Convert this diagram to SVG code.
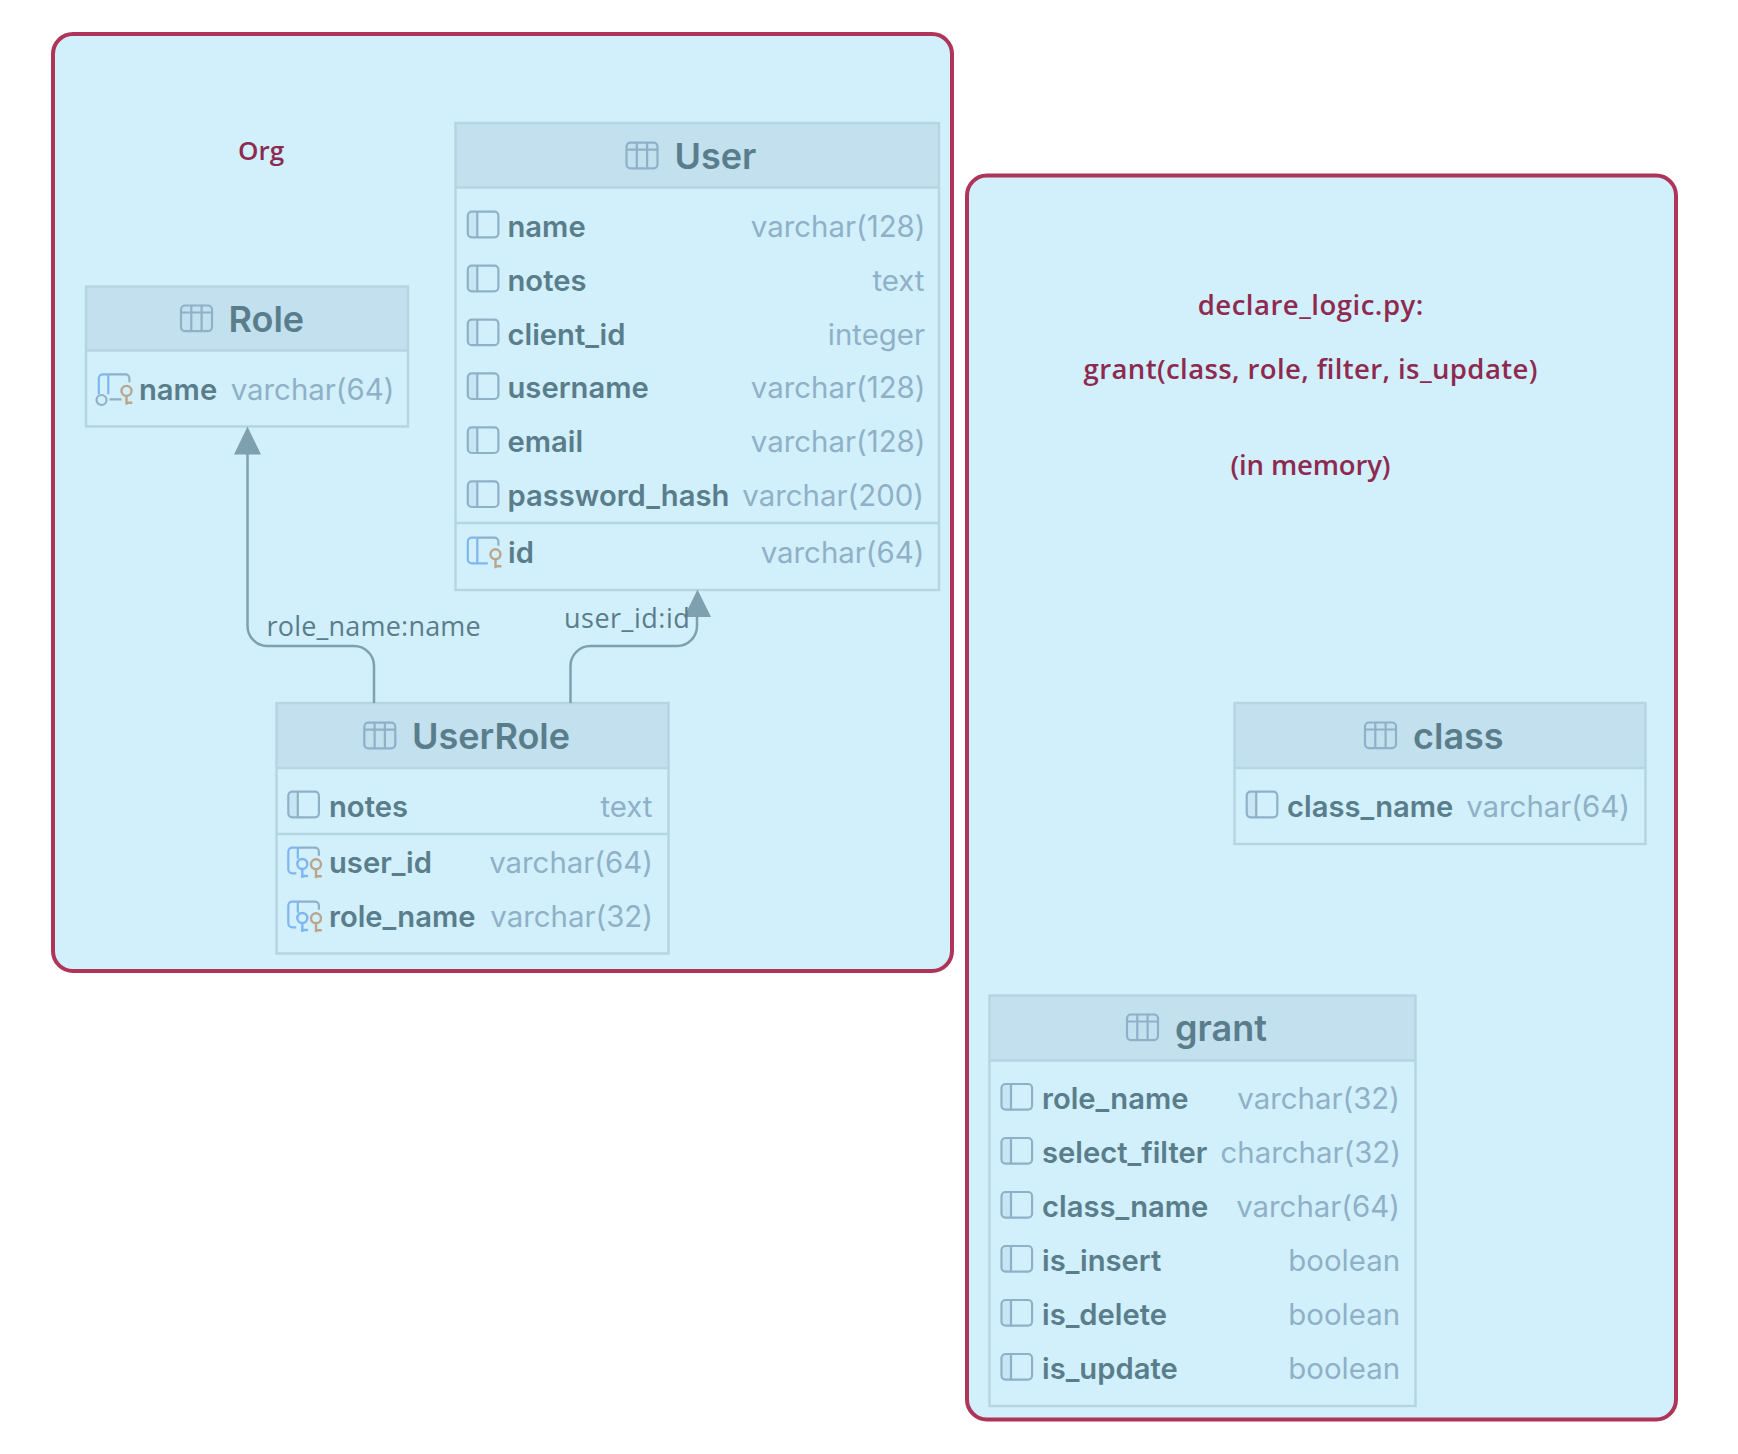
<svg xmlns="http://www.w3.org/2000/svg" xmlns:xlink="http://www.w3.org/1999/xlink" width="1738" height="1454" viewBox="0 0 1738 1454">
<style>
.panel{fill:#d2f0fb;stroke:#ae3559;stroke-width:4}
.tb{fill:none;stroke:#b5d5e2;stroke-width:2.5}
.hd{fill:#c2e0ee}
.dv{stroke:#b5d5e2;stroke-width:2.5}
.cap{font:600 27.500px "Open Sans",sans-serif;fill:#8e2a50;text-anchor:middle}
.h{font:600 36px Inter,sans-serif;fill:#5a7d8c}
.n{font:600 29.200px Inter,sans-serif;fill:#5a7d8c}
.t{font:400 29.400px Inter,sans-serif;fill:#8fb0c7;text-anchor:end}
.el{font:400 27px "Open Sans",sans-serif;fill:#5a7d8c;letter-spacing:.2px}
.ln{fill:none;stroke:#7fa0ae;stroke-width:2.5}
.s{fill:none;stroke:#8fb0c7;stroke-width:2.2}
.b{fill:none;stroke:#7fb6f0;stroke-width:2.2}
.g{fill:none;stroke:#b9a68c;stroke-width:2.4}
.k{fill:none;stroke:#7fb6f0;stroke-width:2.4}
</style>
<defs>
<g id="tbl"><rect class="s" x="0" y="0" width="31" height="25.6" rx="4"/><path class="s" d="M0 7H31M10.3 0V25.6M20.6 0V25.6"/></g>
<g id="col"><path d="M1 1H9.5V24.6H1z" fill="#c8e5f6"/><rect class="s" x="0" y="0" width="30.6" height="25.6" rx="4"/><path class="s" d="M9.5 0V25.6"/></g>
<g id="gk"><circle class="g" cx="27.7" cy="16.6" r="5"/><path class="g" d="M27.7 21.6V30.5M27.7 28.5H33.5"/></g>
<g id="bk"><circle class="k" cx="14" cy="16.3" r="5"/><path class="k" d="M14 21.3V30.3M14 28.3H19.8"/></g>
<g id="pk"><path class="s" d="M9.5 0H26.6a4 4 0 0 1 4 4V8"/><path class="b" d="M9.5 0H4a4 4 0 0 0-4 4V21.6a4 4 0 0 0 4 4H20M9.5 0V25.6"/><use href="#gk"/></g>
<g id="fp"><path class="s" d="M9.5 0H26.6a4 4 0 0 1 4 4V8"/><path class="b" d="M9.5 0H4a4 4 0 0 0-4 4V21.6a4 4 0 0 0 4 4H8M9.5 0V11"/><use href="#bk"/><use href="#gk"/></g>
<g id="uk"><path class="s" d="M9.5 0H26.6a4 4 0 0 1 4 4V8M10.7 25H22.7"/><circle class="s" cx="2.7" cy="25.7" r="5"/><path class="b" d="M9.5 0H4a4 4 0 0 0-4 4V20M9.500 0V20"/><use href="#gk"/></g>
</defs>
<rect width="1738" height="1454" fill="#fff"/>
<g id="panel-org"><rect class="panel" x="53" y="34" width="899" height="937" rx="20"/><text class="cap" style="font-size:26px" x="261" y="160">Org</text></g>
<g id="panel-logic"><rect class="panel" x="967" y="175.500" width="709" height="1244" rx="20"/>
<text class="cap" x="1310.500" y="315" textLength="225.500">declare_logic.py:</text><text class="cap" x="1310.500" y="379" textLength="454">grant(class, role, filter, is_update)</text><text class="cap" x="1310.500" y="475" textLength="160">(in memory)</text></g>

<g id="table-role">
<rect class="hd" x="86" y="286.500" width="322" height="64"/><rect class="tb" x="86" y="286.500" width="322" height="140"/><path class="dv" d="M86 350.500H408"/>
<use href="#tbl" x="181" y="305.500"/><text class="h" x="228.500" y="332">Role</text>
<use href="#uk" x="98.800" y="374.300"/><text class="n" x="139" y="400">name</text><text class="t" x="394.500" y="400">varchar(64)</text>
</g>

<g id="table-user">
<rect class="hd" x="455.500" y="123" width="483.500" height="64.500"/><rect class="tb" x="455.500" y="123" width="483.500" height="467"/><path class="dv" d="M455.500 187.500H939M455.500 523H939"/>
<use href="#tbl" x="626.500" y="142.700"/><text class="h" x="674.500" y="169">User</text>
<use href="#col" x="467.800" y="211.700"/><text class="n" x="507.500" y="237">name</text><text class="t" x="925.500" y="237">varchar(128)</text>
<use href="#col" x="467.800" y="265.700"/><text class="n" x="507.500" y="291">notes</text><text class="t" x="924.500" y="291">text</text>
<use href="#col" x="467.800" y="319.600"/><text class="n" x="507.500" y="345">client_id</text><text class="t" x="925" y="345">integer</text>
<use href="#col" x="467.800" y="373.400"/><text class="n" x="507.500" y="398">username</text><text class="t" x="925.500" y="398">varchar(128)</text>
<use href="#col" x="467.800" y="427.400"/><text class="n" x="507.500" y="452">email</text><text class="t" x="925.500" y="452">varchar(128)</text>
<use href="#col" x="467.800" y="481.400"/><text class="n" x="507.500" y="506">password_hash</text><text class="t" x="924" y="506">varchar(200)</text>
<use href="#pk" x="467.800" y="537.700"/><text class="n" x="508" y="563">id</text><text class="t" x="924.500" y="563">varchar(64)</text>
</g>

<g id="table-userrole">
<rect class="hd" x="276.500" y="703" width="392" height="65"/><rect class="tb" x="276.500" y="703" width="392" height="250.500"/><path class="dv" d="M276.500 768H668.500M276.500 834H668.500"/>
<use href="#tbl" x="364.300" y="722.700"/><text class="h" x="412" y="749">UserRole</text>
<use href="#col" x="288.300" y="791.700"/><text class="n" x="329" y="817">notes</text><text class="t" x="652.500" y="817">text</text>
<use href="#fp" x="288.300" y="847.700"/><text class="n" x="329" y="873">user_id</text><text class="t" x="653" y="873">varchar(64)</text>
<use href="#fp" x="288.300" y="901.700"/><text class="n" x="329" y="927">role_name</text><text class="t" x="653" y="927">varchar(32)</text>
</g>

<g id="table-class">
<rect class="hd" x="1234.500" y="703" width="411" height="65"/><rect class="tb" x="1234.500" y="703" width="411" height="141"/><path class="dv" d="M1234.500 768H1645.500"/>
<use href="#tbl" x="1365" y="722.500"/><text class="h" x="1413" y="749">class</text>
<use href="#col" x="1246.700" y="791.700"/><text class="n" x="1287" y="817">class_name</text><text class="t" x="1630" y="817">varchar(64)</text>
</g>

<g id="table-grant">
<rect class="hd" x="989.500" y="995.500" width="426" height="65"/><rect class="tb" x="989.500" y="995.500" width="426" height="410.500"/><path class="dv" d="M989.500 1060.500H1415.500"/>
<use href="#tbl" x="1127" y="1014.500"/><text class="h" x="1175" y="1041">grant</text>
<use href="#col" x="1001.500" y="1084"/><text class="n" x="1042" y="1109">role_name</text><text class="t" x="1400" y="1109">varchar(32)</text>
<use href="#col" x="1001.500" y="1138"/><text class="n" x="1042" y="1163">select_filter</text><text class="t" x="1401" y="1163">charchar(32)</text>
<use href="#col" x="1001.500" y="1192"/><text class="n" x="1042" y="1217">class_name</text><text class="t" x="1400" y="1217">varchar(64)</text>
<use href="#col" x="1001.500" y="1246"/><text class="n" x="1042" y="1271">is_insert</text><text class="t" x="1400" y="1271">boolean</text>
<use href="#col" x="1001.500" y="1300"/><text class="n" x="1042" y="1325">is_delete</text><text class="t" x="1400" y="1325">boolean</text>
<use href="#col" x="1001.500" y="1354"/><text class="n" x="1042" y="1379">is_update</text><text class="t" x="1400" y="1379">boolean</text>
</g>

<g id="connectors">
<path class="ln" d="M374 703V666a20 20 0 0 0-20-20H267.500a20 20 0 0 1-20-20V452"/>
<polygon points="247.500,426.500 261,454.500 234,454.500" fill="#7fa0ae"/>
<text class="el" x="266.500" y="636">role_name:name</text>
<path class="ln" d="M570.500 703V666a20 20 0 0 1 20-20H677a20 20 0 0 0 20-20V614"/>
<polygon points="697.500,589.500 711,617 684,617" fill="#7fa0ae"/>
<text class="el" style="letter-spacing:.5px" x="564" y="628">user_id:id</text>
</g>
</svg>
